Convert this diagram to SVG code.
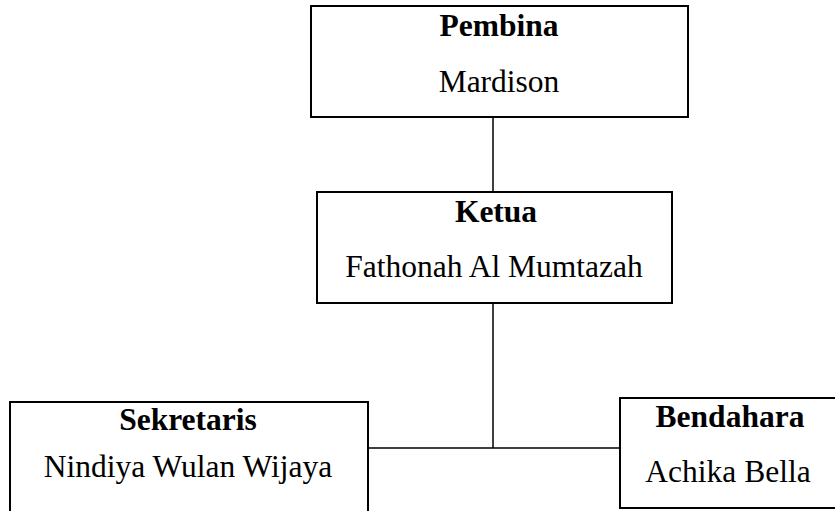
<svg xmlns="http://www.w3.org/2000/svg" width="835" height="511" viewBox="0 0 835 511">
  <style>
    .box { fill: #ffffff; stroke: #000000; stroke-width: 2; }
    .line { stroke: #000000; stroke-width: 1.5; fill: none; }
    text { font-family: 'Liberation Serif', 'Times New Roman', serif; font-size: 31.5px; text-anchor: middle; fill: #000000; }
    .title { font-weight: bold; }
  </style>
  <rect width="835" height="511" fill="#ffffff"/>

  <!-- connectors -->
  <g id="connectors">
    <line class="line" x1="493" y1="117" x2="493" y2="192"/>
    <line class="line" x1="493" y1="303" x2="493" y2="448"/>
    <line class="line" x1="368" y1="448" x2="620" y2="448"/>
  </g>

  <g id="pembina">
    <rect class="box" x="311" y="6" width="377" height="111"/>
    <text class="title" x="499" y="36">Pembina</text>
    <text class="name" x="499" y="92">Mardison</text>
  </g>

  <g id="ketua">
    <rect class="box" x="317" y="192" width="355" height="111"/>
    <text class="title" x="496" y="222">Ketua</text>
    <text class="name" x="494" y="277">Fathonah Al Mumtazah</text>
  </g>

  <g id="sekretaris">
    <rect class="box" x="10" y="402" width="358" height="120"/>
    <text class="title" x="188" y="430">Sekretaris</text>
    <text class="name" x="188" y="477">Nindiya Wulan Wijaya</text>
  </g>

  <g id="bendahara">
    <rect class="box" x="620" y="398" width="230" height="110"/>
    <text class="title" x="730" y="427">Bendahara</text>
    <text class="name" x="728" y="482">Achika Bella</text>
  </g>
</svg>
